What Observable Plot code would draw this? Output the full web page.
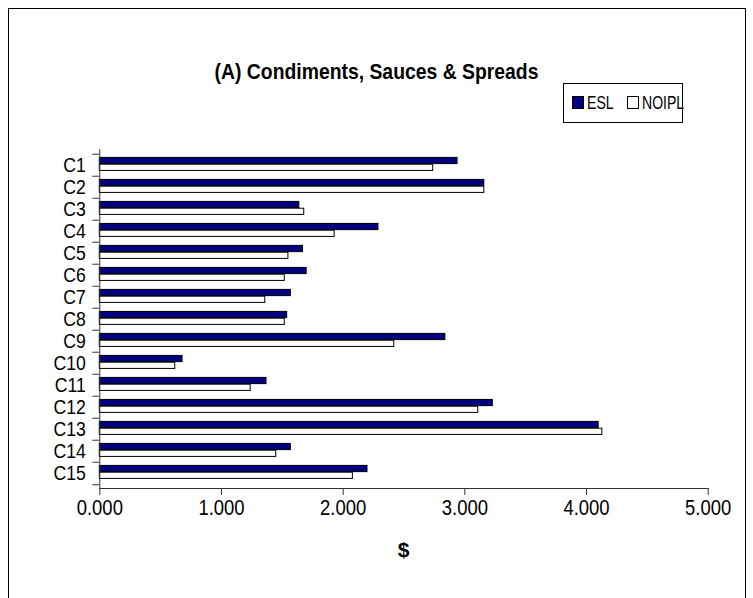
<!DOCTYPE html>
<html>
<head>
<meta charset="utf-8">
<script src="https://cdn.jsdelivr.net/npm/d3@7"></script>
<script src="https://cdn.jsdelivr.net/npm/@observablehq/plot@0.6"></script>
<style>
  html, body { margin: 0; padding: 0; background: #fff; }
  #wrap { position: relative; width: 753px; height: 598px; overflow: hidden; background: #fff;
          font-family: "Liberation Sans", Arial, sans-serif; color: #000; }
  #border { position: absolute; left: 8px; top: 8px; width: 736px; height: 620px; border: 1px solid #000; }
  #title { position: absolute; left: 0; width: 753px; top: 59px; text-align: center; font-weight: bold;
           font-size: 22px; line-height: 25px; transform: scaleX(0.88); transform-origin: center; }
  #legend { position: absolute; left: 563px; top: 83px; width: 120px; height: 40px; border: 1px solid #000;
            box-sizing: border-box; }
  #legend .sw { position: absolute; top: 12px; width: 12px; height: 13px; border: 1px solid #000; box-sizing: border-box; }
  #legend .lab { position: absolute; top: 0; height: 38px; line-height: 38px; font-size: 19px;
                 transform: scaleX(0.74); transform-origin: left center; white-space: nowrap; }
  #xlabel { position: absolute; left: 99px; width: 609px; top: 537px; text-align: center; font-weight: bold;
            font-size: 21px; line-height: 25px; }
  #chart { position: absolute; left: 0; top: 0; }
</style>
</head>
<body>
<div id="wrap">
  <div id="border"></div>
  <div id="chart"></div>
  <div id="title"></div>
  <div id="legend"></div>
  <div id="xlabel"></div>
</div>
<script>
const titleText = "(A) Condiments, Sauces & Spreads";
const xLabelText = "$";
const categories = ["C1","C2","C3","C4","C5","C6","C7","C8","C9","C10","C11","C12","C13","C14","C15"];
const seriesNames = ["ESL", "NOIPL"];
const eslValues   = [2.94, 3.16, 1.64, 2.29, 1.67, 1.70, 1.57, 1.54, 2.84, 0.68, 1.37, 3.23, 4.10, 1.57, 2.20];
const noiplValues = [2.74, 3.16, 1.68, 1.93, 1.55, 1.52, 1.36, 1.52, 2.42, 0.62, 1.24, 3.11, 4.13, 1.45, 2.08];
const xTicks = [0, 1, 2, 3, 4, 5];
const seriesFill = ["#000080", "#ffffff"];

const esl = categories.map((c, i) => ({category: c, value: eslValues[i]}));
const noipl = categories.map((c, i) => ({category: c, value: noiplValues[i]}));

const W = 753, H = 598;
const mL = 99.3, mR = 45.3, mT = 149.3, mB = 110;
const band = (H - mT - mB) / categories.length;
const barH = 6.8;
const groupTop = 3.4;

const plot = Plot.plot({
  width: W, height: H,
  marginLeft: mL, marginRight: mR, marginTop: mT, marginBottom: mB,
  style: {fontFamily: "'Liberation Sans', Arial, sans-serif", color: "#000", background: "transparent"},
  x: {domain: [0, 5], ticks: xTicks, tickFormat: d3.format(".3f"), label: null},
  y: {domain: categories, padding: 0, label: null},
  marks: [
    Plot.barX(esl, {x: "value", y: "category", fill: seriesFill[0], stroke: "#000", strokeWidth: 1,
      insetTop: groupTop, insetBottom: band - groupTop - barH}),
    Plot.barX(noipl, {x: "value", y: "category", fill: seriesFill[1], stroke: "#000", strokeWidth: 1,
      insetTop: groupTop + barH, insetBottom: band - groupTop - 2 * barH}),
    Plot.frame({anchor: "left", stroke: "#333"}),
    Plot.frame({anchor: "bottom", stroke: "#333"}),
    Plot.axisY({tickSize: 7, tickPadding: 0, dy: -band / 2, tickFormat: () => "", stroke: "#333"}),
    Plot.axisY({ticks: [categories[categories.length - 1]], tickSize: 7, dy: band / 2, tickFormat: () => "", stroke: "#333"}),
    Plot.axisY({tickSize: 0, tickPadding: 14, fontSize: 21}),
    Plot.axisX({ticks: xTicks, tickSize: 7, tickPadding: 4, fontSize: 22, tickFormat: d3.format(".3f"), stroke: "#333", label: null})
  ]
});
document.getElementById("chart").appendChild(plot);

// narrow the tick label glyphs horizontally, like the reference's condensed lettering
plot.querySelectorAll('g[aria-label="y-axis tick label"] text, g[aria-label="x-axis tick label"] text').forEach(t => {
  const tr = t.getAttribute("transform");
  if (tr) t.setAttribute("transform", tr + " scale(0.84,1)");
});

document.getElementById("title").textContent = titleText;
document.getElementById("xlabel").textContent = xLabelText;
const legend = document.getElementById("legend");
const swLeft = [8, 63];
seriesNames.forEach((name, i) => {
  const sw = document.createElement("div");
  sw.className = "sw";
  sw.style.left = swLeft[i] + "px";
  sw.style.background = seriesFill[i];
  const label = document.createElement("div");
  label.className = "lab";
  label.style.left = (swLeft[i] + 15) + "px";
  label.textContent = name;
  legend.appendChild(sw);
  legend.appendChild(label);
});
</script>
</body>
</html>
